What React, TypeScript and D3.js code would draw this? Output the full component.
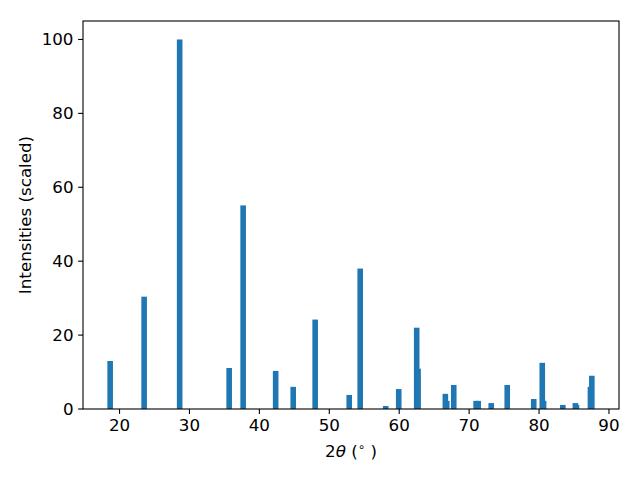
import React from "react";
import * as d3 from "d3";

const twoTheta = [18.66, 23.52, 28.6, 35.68, 37.68, 42.33, 44.84, 47.98, 52.85, 54.42, 58.07, 59.93, 62.5, 62.7, 66.6, 66.8, 67.8, 71.0, 71.3, 73.16, 75.45, 79.24, 80.46, 80.65, 83.4, 85.2, 85.35, 87.35, 87.55];
const intensities = [13.0, 30.4, 100, 11.1, 55.1, 10.3, 6.0, 24.2, 3.8, 38.0, 0.8, 5.4, 22.0, 10.9, 4.1, 2.2, 6.5, 2.2, 2.2, 1.6, 6.5, 2.7, 12.5, 2.2, 1.1, 1.6, 1.1, 6.0, 9.0];
const xTicks = [20, 30, 40, 50, 60, 70, 80, 90];
const yTicks = [0, 20, 40, 60, 80, 100];
const barWidth = 0.8;

const W = 640, H = 480;
const L = 83, R = 619, T = 21, B = 409;
const FONT = "DejaVu Sans, sans-serif";
const FS = 16.7;

export default function App() {
  const lo = d3.min(twoTheta)! - barWidth / 2;
  const hi = d3.max(twoTheta)! + barWidth / 2;
  const pad = (hi - lo) * 0.05;
  const x = d3.scaleLinear().domain([lo - pad, hi + pad]).range([L, R]);
  const y = d3.scaleLinear().domain([0, 105]).range([B, T]);
  return (
    <svg width={W} height={H} style={{ position: "absolute", left: 0, top: 0, background: "#fff" }} fontFamily={FONT}>
      <rect x={0} y={0} width={W} height={H} fill="#fff" />
      {twoTheta.map((v, i) => (
        <rect key={i} x={x(v - barWidth / 2)} y={y(intensities[i])} width={x(v + barWidth / 2) - x(v - barWidth / 2)} height={y(0) - y(intensities[i])} fill="#1f77b4" />
      ))}
      <rect x={L} y={T} width={R - L} height={B - T} fill="none" stroke="#000" strokeWidth={1.1} />
      {xTicks.map((t) => (
        <g key={t}>
          <line x1={x(t)} x2={x(t)} y1={B} y2={B + 4.9} stroke="#000" strokeWidth={1.1} />
          <text x={x(t)} y={431} textAnchor="middle" fontSize={FS}>{t}</text>
        </g>
      ))}
      {yTicks.map((t) => (
        <g key={t}>
          <line x1={L} x2={L - 4.9} y1={y(t)} y2={y(t)} stroke="#000" strokeWidth={1.1} />
          <text x={73.5} y={y(t)} dy="0.36em" textAnchor="end" fontSize={FS}>{t}</text>
        </g>
      ))}
      <text x={(L + R) / 2} y={457} textAnchor="middle" fontSize={FS}>
        2<tspan fontStyle="italic">θ</tspan> (<tspan fontSize={11.7} dy={-6}>∘</tspan><tspan dy={6}> )</tspan>
      </text>
      <text transform={`translate(31,${(T + B) / 2}) rotate(-90)`} textAnchor="middle" fontSize={FS}>Intensities (scaled)</text>
    </svg>
  );
}
